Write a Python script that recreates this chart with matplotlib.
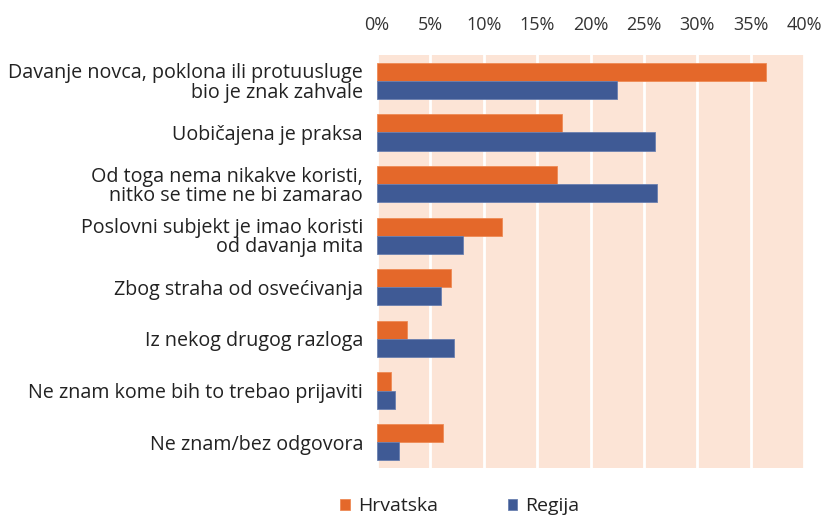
import matplotlib
matplotlib.use("Agg")
import matplotlib.pyplot as plt
import numpy as np
from matplotlib.ticker import FuncFormatter

categories = [
    "Davanje novca, poklona ili protuusluge\nbio je znak zahvale",
    "Uobičajena je praksa",
    "Od toga nema nikakve koristi,\nnitko se time ne bi zamarao",
    "Poslovni subjekt je imao koristi\nod davanja mita",
    "Zbog straha od osvećivanja",
    "Iz nekog drugog razloga",
    "Ne znam kome bih to trebao prijaviti",
    "Ne znam/bez odgovora",
]
hrvatska = [36.4, 17.3, 16.9, 11.7, 6.9, 2.8, 1.3, 6.2]
regija = [22.5, 26.0, 26.2, 8.1, 6.0, 7.2, 1.7, 2.1]
series_names = ["Hrvatska", "Regija"]
xticks = [0, 5, 10, 15, 20, 25, 30, 35, 40]

plt.rcParams['font.family'] = ['Open Sans', 'DejaVu Sans']

fig = plt.figure(figsize=(8.27, 5.21), dpi=100)
ax = fig.add_axes([377/827, 1-468/521, (804-377)/827, (468-55)/521])
ax.set_facecolor('#FCE4D6')

y = np.arange(len(categories))
h = 0.35
orange = '#E4682A'
blue = '#3F5A95'
ax.barh(y - h/2, hrvatska, height=h, color=orange, edgecolor='#EE8A55', linewidth=0.6, label=series_names[0], zorder=3)
ax.barh(y + h/2, regija, height=h, color=blue, edgecolor='#6A80B0', linewidth=0.6, label=series_names[1], zorder=3)

ax.set_xlim(0, 40)
ax.set_ylim(len(categories) - 0.5, -0.5)
ax.set_xticks(xticks)
ax.xaxis.set_major_formatter(FuncFormatter(lambda v, p: f"{int(v)}%"))
ax.xaxis.tick_top()
ax.tick_params(axis='x', length=0, pad=15, labelsize=13, colors='#333333')
ax.tick_params(axis='y', length=0, pad=10, labelsize=14.2, colors='#222222')
ax.set_yticks(y)
ax.set_yticklabels(categories, linespacing=0.95)
ax.grid(axis='x', color='white', linewidth=2, zorder=1)
for s in ax.spines.values():
    s.set_visible(False)

fig.legend(loc='lower center', bbox_to_anchor=(0.556, -0.022), ncol=2, frameon=False,
           fontsize=14, handlelength=0.5, handleheight=0.5, columnspacing=3.6, handletextpad=0.4,
           labelcolor='#222222')

fig.savefig("out.png", dpi=100)
